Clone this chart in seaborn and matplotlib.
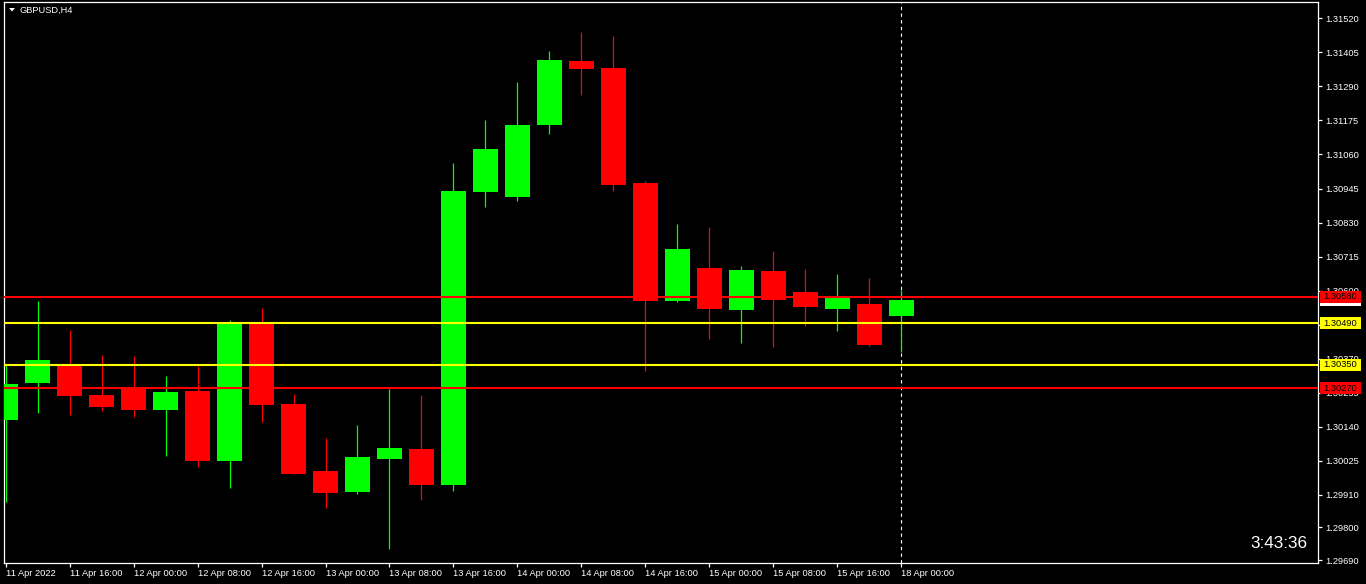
import matplotlib
matplotlib.use('Agg')
import matplotlib.pyplot as plt
import seaborn as sns
import numpy as np
import pandas as pd
from matplotlib.patches import Rectangle, Polygon

# ---------------- data ----------------
symbol_title = "GBPUSD,H4"
timer_text = "3:43:36"

opens = [1.30163, 1.30289, 1.30349, 1.30248, 1.30272, 1.30198, 1.30261, 1.30026,
         1.30490, 1.30217, 1.29991, 1.29920, 1.30031, 1.30065, 1.29944, 1.30933,
         1.30916, 1.31160, 1.31376, 1.31352, 1.30964, 1.30566, 1.30677, 1.30535,
         1.30666, 1.30595, 1.30538, 1.30555, 1.30514]
closes = [1.30285, 1.30366, 1.30245, 1.30208, 1.30198, 1.30258, 1.30026, 1.30490,
          1.30214, 1.29982, 1.29918, 1.30038, 1.30069, 1.29944, 1.30937, 1.31078,
          1.31160, 1.31379, 1.31349, 1.30957, 1.30565, 1.30741, 1.30538, 1.30670,
          1.30568, 1.30545, 1.30579, 1.30416, 1.30568]
highs = [1.30352, 1.30565, 1.30467, 1.30383, 1.30379, 1.30312, 1.30345, 1.30501,
         1.30541, 1.30251, 1.30102, 1.30146, 1.30268, 1.30248, 1.31031, 1.31176,
         1.31305, 1.31410, 1.31474, 1.31460, 1.30970, 1.30825, 1.30815, 1.30683,
         1.30734, 1.30673, 1.30656, 1.30643, 1.30602]
lows = [1.29886, 1.30188, 1.30180, 1.30195, 1.30174, 1.30042, 1.30005, 1.29934,
        1.30157, 1.29979, 1.29867, 1.29914, 1.29728, 1.29894, 1.29924, 1.30883,
        1.30903, 1.31129, 1.31261, 1.30937, 1.30329, 1.30562, 1.30437, 1.30423,
        1.30410, 1.30481, 1.30464, 1.30414, 1.30393]

xtick_labels = ["11 Apr 2022", "11 Apr 16:00", "12 Apr 00:00", "12 Apr 08:00",
                "12 Apr 16:00", "13 Apr 00:00", "13 Apr 08:00", "13 Apr 16:00",
                "14 Apr 00:00", "14 Apr 08:00", "14 Apr 16:00", "15 Apr 00:00",
                "15 Apr 08:00", "15 Apr 16:00", "18 Apr 00:00"]
ytick_values = [1.31520, 1.31405, 1.31290, 1.31175, 1.31060, 1.30945, 1.30830,
                1.30715, 1.30600, 1.30485, 1.30370, 1.30255, 1.30140, 1.30025,
                1.29910, 1.29800, 1.29690]
ytick_labels = ["1.31520", "1.31405", "1.31290", "1.31175", "1.31060", "1.30945",
                "1.30830", "1.30715", "1.30600", "1.30485", "1.30370", "1.30255",
                "1.30140", "1.30025", "1.29910", "1.29800", "1.29690"]

level_prices = [1.30580, 1.30490, 1.30350, 1.30270]
level_colors = ["#FF0000", "#FFFF00", "#FFFF00", "#FF0000"]

UP = "#00FF00"
DOWN = "#FF0000"

# ---------------- style ----------------
sns.set_theme(style="dark", rc={
    "axes.facecolor": "black",
    "figure.facecolor": "black",
    "axes.edgecolor": "white",
    "text.color": "white",
    "xtick.color": "white",
    "ytick.color": "white",
})
plt.rcParams['font.family'] = ['Liberation Sans', 'DejaVu Sans']

W, H = 1366, 584
fig = plt.figure(figsize=(W / 100, H / 100), dpi=100, facecolor="black")
ax_l, ax_r, ax_t, ax_b = 4, 1318, 2, 563
ax = fig.add_axes([ax_l / W, (H - ax_b) / H, (ax_r - ax_l) / W, (ax_b - ax_t) / H])
ax.set_facecolor("black")

df = pd.DataFrame({"open": opens, "high": highs, "low": lows, "close": closes})
df["idx"] = np.arange(len(df))
df["up"] = df["close"] >= df["open"]
df["color"] = np.where(df["up"], UP, DOWN)
df["bottom"] = df[["open", "close"]].min(axis=1)
df["height"] = (df["close"] - df["open"]).abs()

ymin, ymax = 1.296800, 1.315751
ax.set_xlim(-0.047, 41.016)
ax.set_ylim(ymin, ymax)
px = (ymax - ymin) / (ax_b - ax_t)  # price per pixel

# vertical dashed separator on the current bar
ax.axvline(len(df) - 1, color="white", lw=0.8, ls=(0, (3, 3)), zorder=1)

# wicks and bodies
ax.vlines(df["idx"], df["low"], df["high"], colors=df["color"], lw=0.9, zorder=2)
ax.bar(df["idx"], df["height"], bottom=df["bottom"], width=0.78,
       color=df["color"], linewidth=0, zorder=3)

# horizontal levels
for p, c in zip(level_prices, level_colors):
    ax.axhline(p, color=c, lw=1.5, zorder=4)

# axes styling
for s in ax.spines.values():
    s.set_color("white")
    s.set_linewidth(0.9)
ax.yaxis.tick_right()
ax.set_yticks(ytick_values)
ax.set_yticklabels(ytick_labels)
ax.set_xticks(np.arange(0, len(df), 2))
ax.set_xticklabels(xtick_labels)
for lbl in ax.get_xticklabels():
    lbl.set_ha("left")
ax.tick_params(axis="y", which="both", right=True, left=False, length=3, width=0.9,
               labelsize=6.7, pad=2, colors="white")
ax.tick_params(axis="x", which="both", bottom=True, length=3, width=0.9,
               labelsize=6.7, pad=1.5, colors="white")
ax.grid(False)

# price labels on the right axis
ytr = ax.get_yaxis_transform()
bx0 = (1320 - ax_l) / (ax_r - ax_l)
bw = 41 / (ax_r - ax_l)
bh = 12 * px


def price_label(price, face, txt_color, z):
    ax.add_patch(Rectangle((bx0, price - bh / 2), bw, bh, transform=ytr,
                           facecolor=face, edgecolor="none", clip_on=False, zorder=z))
    ax.text(bx0 + bw / 2, price, f"{price:.5f}", transform=ytr, ha="center",
            va="center", fontsize=6.7, color=txt_color, clip_on=False, zorder=z + 0.5)


# current bid label (white), partly hidden by red level label
price_label(closes[-1], "white", "#000080", 6)
for i, (p, c) in enumerate(zip(level_prices, level_colors)):
    price_label(p, c, "black", 8 + i)

# title with triangle
tri = Polygon([[9 / W, 1 - 8 / H], [15 / W, 1 - 8 / H], [12 / W, 1 - 11.5 / H]],
              closed=True, transform=fig.transFigure, facecolor="white",
              edgecolor="none")
fig.patches.append(tri)
fig.text(20 / W, 1 - 10 / H, symbol_title, ha="left", va="center",
         color="white", fontsize=6.7)

# countdown timer
fig.text(1308 / W, 1 - 544 / H, timer_text, ha="right", va="center",
         color="white", fontsize=12.3)

fig.savefig("out.png", dpi=100, facecolor="black")
